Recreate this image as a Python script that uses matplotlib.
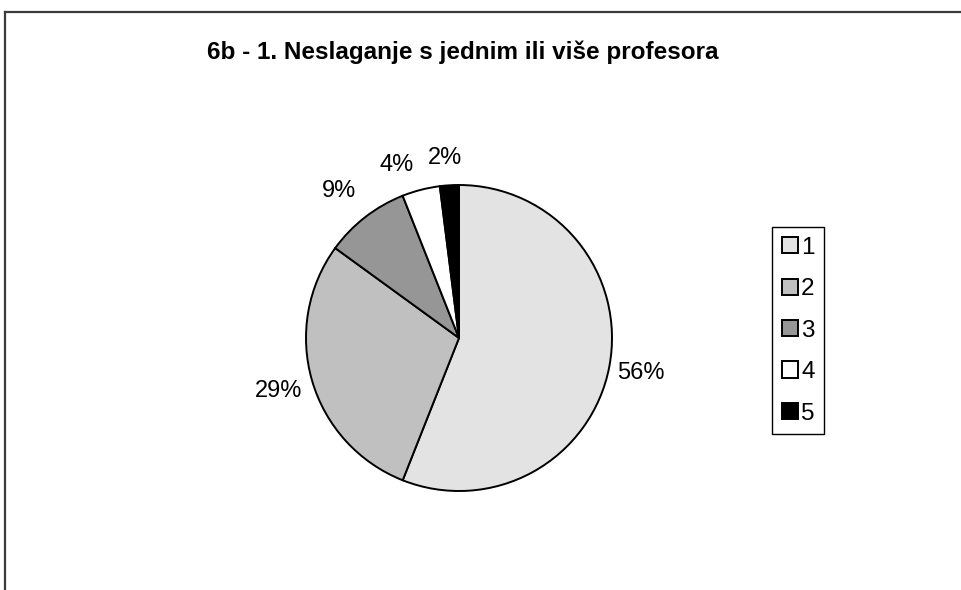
import numpy as np
import matplotlib.pyplot as plt
from matplotlib.lines import Line2D
from matplotlib.patches import Patch

plt.rcParams["font.family"] = ["Liberation Sans", "DejaVu Sans"]

TITLE = "6b - 1. Neslaganje s jednim ili više profesora"
CATEGORIES = ["1", "2", "3", "4", "5"]
SHARES = [56, 29, 9, 4, 2]
COLORS = ["#e3e3e3", "#c0c0c0", "#969696", "#ffffff", "#000000"]
# label placement: radial distance (pie radius = 1) and small angle nudges
LABEL_DIST = [1.21, 1.23, 1.24, 1.20, 1.18]
LABEL_NUDGE = [0, 0, 1.5, 5.5, 1.0]

W, H = 962, 590
fig = plt.figure(figsize=(W / 100, H / 100), dpi=100)

# outer chart frame (top and left edges only visible)
fig.add_artist(Line2D([5 / W, 1], [1 - 12 / H, 1 - 12 / H], color="#3c3c3c", lw=1.6))
fig.add_artist(Line2D([5 / W, 5 / W], [0, 1 - 12 / H], color="#3c3c3c", lw=1.6))

fig.text(463 / W, 1 - 52 / H, TITLE, ha="center", va="center",
         fontsize=17.5, fontweight="bold")

cx, cy, r = 459, 338, 153
ax = fig.add_axes([(cx - r) / W, (H - cy - r) / H, 2 * r / W, 2 * r / H])
wedges, _ = ax.pie(SHARES, colors=COLORS, startangle=90, counterclock=False,
                   radius=1, wedgeprops=dict(edgecolor="black", linewidth=1.4))
ax.set_xlim(-1, 1)
ax.set_ylim(-1, 1)
ax.set_aspect("auto")

total = sum(SHARES)
cum = np.cumsum([0] + SHARES)
for i, v in enumerate(SHARES):
    mid = 90 - 360 * (cum[i] + v / 2) / total + LABEL_NUDGE[i]
    a = np.deg2rad(mid)
    d = LABEL_DIST[i]
    ax.text(d * np.cos(a), d * np.sin(a), f"{v}%", ha="center", va="center",
            fontsize=17, clip_on=False)

handles = [Patch(facecolor=c, edgecolor="black", linewidth=1.4) for c in COLORS]
fig.legend(handles, CATEGORIES, loc="upper left",
           bbox_to_anchor=(772 / W, 1 - 227 / H), fontsize=17.5,
           frameon=True, fancybox=False, edgecolor="black", framealpha=1,
           handlelength=0.65, handleheight=0.65, handletextpad=0.15,
           labelspacing=0.8, borderpad=0.4, borderaxespad=0)

fig.savefig("out.png", dpi=100, facecolor="white")
